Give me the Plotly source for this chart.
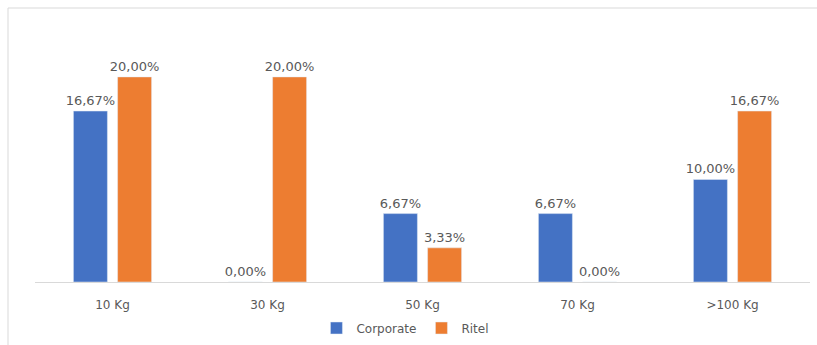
import plotly.graph_objects as go

categories = ["10 Kg", "30 Kg", "50 Kg", "70 Kg", ">100 Kg"]
corporate = [16.67, 0.00, 6.67, 6.67, 10.00]
ritel = [20.00, 20.00, 3.33, 0.00, 16.67]

BLUE = "#4472C4"
ORANGE = "#ED7D31"
GREY_TEXT = "#595959"
FONT = "DejaVu Sans"


def pct_labels(values):
    return [f"{v:.2f}%".replace(".", ",") for v in values]


fig = go.Figure()
for name, values, color in (("Corporate", corporate, BLUE), ("Ritel", ritel, ORANGE)):
    fig.add_trace(go.Bar(
        name=name, x=categories, y=values,
        marker_color=color, text=pct_labels(values),
        textposition="outside", cliponaxis=False, constraintext="none",
        textfont=dict(family=FONT, size=13, color=GREY_TEXT),
    ))

# chart frame (light grey border around the chart area)
fig.add_shape(
    type="rect", xref="paper", yref="paper",
    x0=(8 - 35) / 775, x1=1.05, y0=-0.4, y1=(282 - 8) / 242,
    line=dict(color="#D9D9D9", width=1), fillcolor="rgba(0,0,0,0)",
    layer="below",
)

fig.update_layout(
    width=817, height=345,
    margin=dict(l=35, r=7, t=40, b=63, autoexpand=False),
    paper_bgcolor="white", plot_bgcolor="white",
    barmode="group", bargap=0.43, bargroupgap=0.23,
    font=dict(family=FONT, size=12, color=GREY_TEXT),
    showlegend=True,
    legend=dict(
        orientation="h", x=0.478, xanchor="center",
        y=(282 - 328) / 242, yanchor="middle",
        font=dict(family=FONT, size=12, color=GREY_TEXT),
        itemwidth=30,
    ),
)
fig.update_xaxes(
    showline=True, linecolor="#D9D9D9", linewidth=1, automargin=False,
    ticks="", showgrid=False, ticklabelstandoff=12,
    tickfont=dict(family=FONT, size=12, color=GREY_TEXT),
)
fig.update_yaxes(
    range=[0, 23.6], visible=False, showgrid=False, zeroline=False,
)

fig.write_html("out.html")
